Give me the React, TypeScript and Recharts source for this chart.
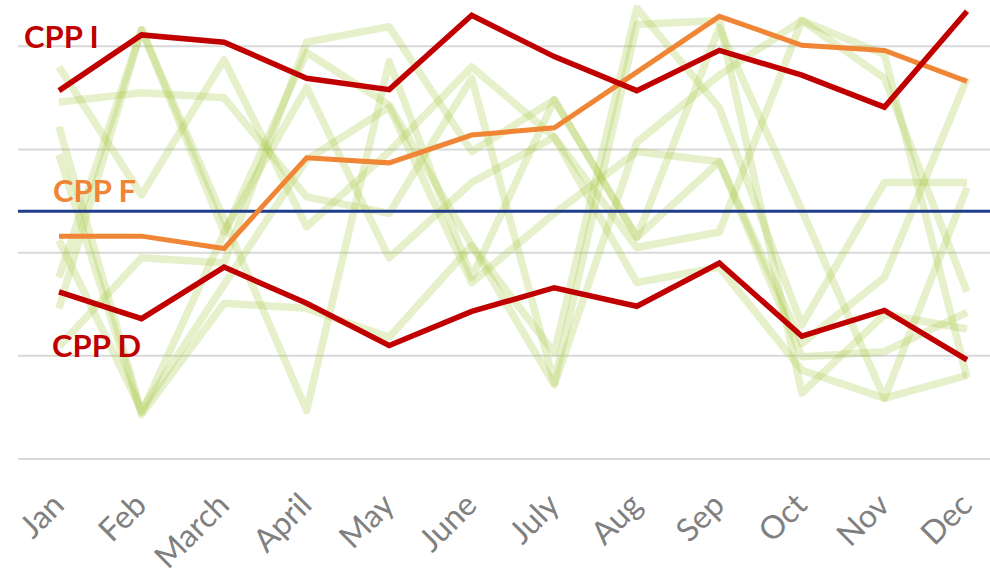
import React from 'react';
import { LineChart, Line, XAxis, YAxis, CartesianGrid, ReferenceLine } from 'recharts';

const months = ['Jan', 'Feb', 'March', 'April', 'May', 'June', 'July', 'Aug', 'Sep', 'Oct', 'Nov', 'Dec'];

const cppI = [3.57, 4.11, 4.04, 3.69, 3.58, 4.30, 3.90, 3.57, 3.96, 3.72, 3.41, 4.34];
const cppF = [2.16, 2.16, 2.04, 2.92, 2.87, 3.14, 3.21, 3.75, 4.29, 4.01, 3.96, 3.66];
const cppD = [1.62, 1.36, 1.86, 1.51, 1.10, 1.43, 1.66, 1.48, 1.90, 1.19, 1.44, 0.96];

const bg1 = [1.46, 4.16, 2.32, 0.47, 3.85, 1.76, 3.48, 2.15, 4.18, 2.41, 0.59, 2.63];
const bg2 = [3.22, 0.45, 2.19, 3.94, 3.43, 2.07, 0.72, 3.07, 3.72, 4.25, 3.92, 0.79];
const bg3 = [3.46, 3.55, 3.50, 2.54, 2.38, 3.69, 0.74, 4.21, 4.25, 0.64, 1.40, 1.26];
const bg4 = [3.80, 2.56, 3.87, 2.25, 2.98, 3.80, 3.12, 1.71, 1.86, 0.86, 0.59, 0.81];
const bg5 = [2.95, 0.43, 1.51, 1.46, 1.18, 2.07, 1.03, 4.37, 3.40, 1.30, 2.68, 2.68];
const bg6 = [1.09, 1.95, 1.90, 4.04, 4.19, 2.98, 3.48, 2.15, 2.88, 1.12, 1.76, 3.69];
const bg7 = [2.12, 0.47, 1.69, 2.90, 3.41, 1.71, 2.38, 2.98, 2.88, 0.99, 1.04, 1.42];
const bg8 = [1.76, 4.16, 2.20, 3.60, 1.95, 2.68, 3.12, 2.05, 2.20, 4.25, 3.69, 1.62];

const background = [bg1, bg2, bg3, bg4, bg5, bg6, bg7, bg8];
const baseline = 2.4;
const gridValues = [0, 1, 2, 3, 4];
const yDomain = [0, 4.4];

const data = months.map((m, i) => {
  const row: Record<string, number | string> = { month: m, cppI: cppI[i], cppF: cppF[i], cppD: cppD[i] };
  background.forEach((s, k) => {
    row['g' + (k + 1)] = s[i];
  });
  return row;
});

const MonthTick = (props: any) => {
  const { x, y, payload } = props;
  const px = x + 7;
  const py = y + 40;
  return (
    <text
      x={px}
      y={py}
      transform={`rotate(-45 ${px} ${py})`}
      textAnchor="end"
      fill="#808080"
      fontSize={32}
      fontFamily="Lato, 'Open Sans', sans-serif"
    >
      {payload.value}
    </text>
  );
};

export default function App() {
  return (
    <div style={{ position: 'absolute', left: 0, top: 0, width: 990, height: 577, background: '#fff' }}>
      <LineChart width={990} height={577} data={data} margin={{ top: 5, right: 0, left: 18, bottom: 0 }}>
        <CartesianGrid vertical={false} horizontalValues={gridValues} stroke="#d9d9d9" strokeWidth={2} />
        <XAxis
          dataKey="month"
          axisLine={false}
          tickLine={false}
          interval={0}
          height={118}
          padding={{ left: 41, right: 23 }}
          tick={<MonthTick />}
        />
        <YAxis hide width={0} domain={yDomain} ticks={gridValues} type="number" allowDataOverflow />
        {background.map((_, k) => (
          <Line
            key={k}
            dataKey={'g' + (k + 1)}
            stroke="#a6ca45"
            strokeOpacity={0.28}
            strokeWidth={7.5}
            dot={false}
            activeDot={false}
            isAnimationActive={false}
            strokeLinejoin="round"
          />
        ))}
        <ReferenceLine y={baseline} stroke="#203d8c" strokeWidth={3} />
        <Line dataKey="cppF" stroke="#ef8535" strokeWidth={5} dot={false} activeDot={false} isAnimationActive={false} />
        <Line dataKey="cppD" stroke="#c00000" strokeWidth={5.5} dot={false} activeDot={false} isAnimationActive={false} />
        <Line dataKey="cppI" stroke="#c00000" strokeWidth={5.5} dot={false} activeDot={false} isAnimationActive={false} />
      </LineChart>
      <svg width={990} height={577} style={{ position: 'absolute', left: 0, top: 0, pointerEvents: 'none' }}>
        <g fontFamily="Lato, 'Open Sans', sans-serif" fontWeight={700} fontSize={31}>
          <text x={24} y={48} fill="#c00000">CPP I</text>
          <text x={53} y={202} fill="#ef8535">CPP F</text>
          <text x={52} y={357} fill="#c00000">CPP D</text>
        </g>
      </svg>
    </div>
  );
}
